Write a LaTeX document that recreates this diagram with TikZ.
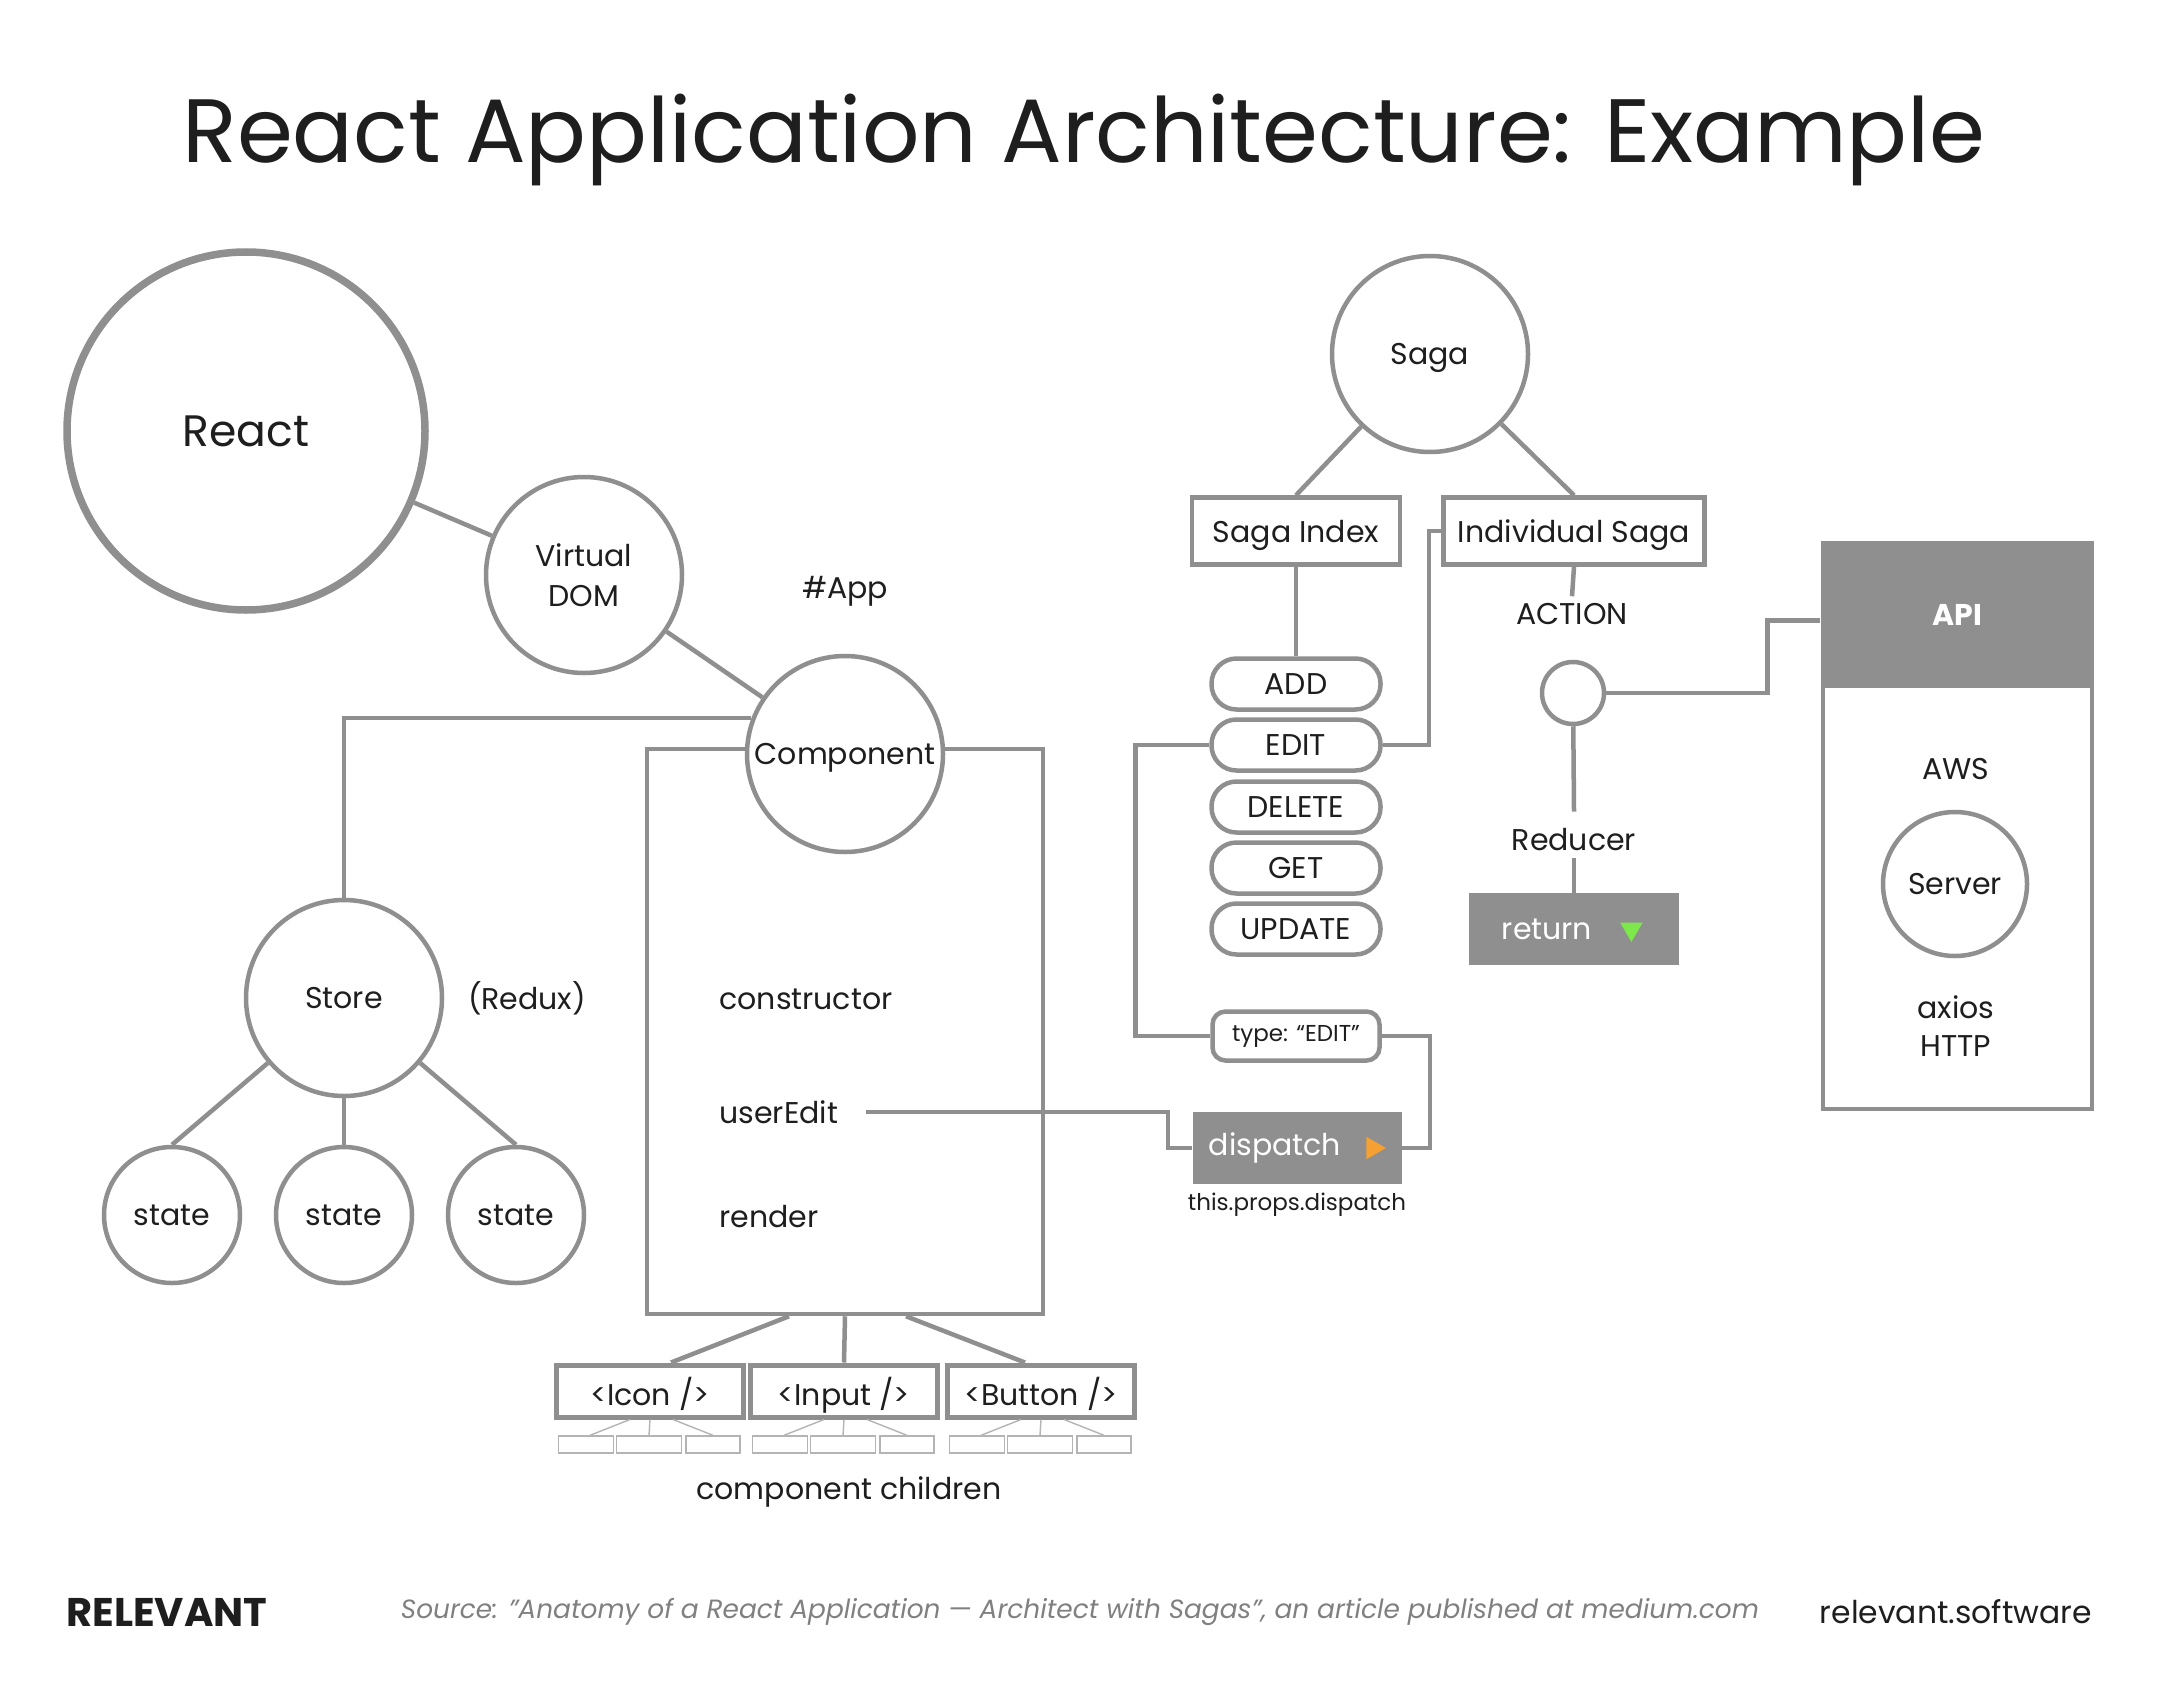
\documentclass[tikz,border=0pt]{standalone}
\usepackage{fontspec}
\setmainfont{Poppins}
\usetikzlibrary{positioning,shapes.geometric}
\definecolor{linegray}{HTML}{8F8F8F}
\definecolor{boxgray}{HTML}{8F8F8F}
\definecolor{leafgray}{HTML}{B4B4B4}
\definecolor{inkblack}{HTML}{1E1E1E}
\definecolor{srcgray}{HTML}{808080}
\definecolor{dispatchorange}{HTML}{F5A033}
\definecolor{returngreen}{HTML}{7CE84A}

\begin{document}
\begin{tikzpicture}[x=0.5pt, y=-0.5pt,
	every node/.style={text=inkblack, font=\fontsize{15}{20}\selectfont},
	wire/.style={draw=linegray, line width=2.25pt},
	bubble/.style={circle, draw=linegray, line width=2.25pt, fill=white, inner sep=0pt, text depth=0pt},
	box/.style={rectangle, draw=linegray, line width=2.25pt, fill=white, inner sep=0pt, text depth=0pt},
	pill/.style={rectangle, rounded corners=12.5pt, draw=linegray, line width=2.25pt, fill=white, minimum width=84.5pt, minimum height=25.5pt, inner sep=0pt},
	graybox/.style={rectangle, fill=boxgray, text=white, inner sep=0pt, minimum width=105pt, minimum height=36pt},
	leaf/.style={rectangle, draw=leafgray, line width=0.7pt, fill=white, minimum height=8.5pt, inner sep=0pt},
	tri/.style={regular polygon, regular polygon sides=3, inner sep=0pt, minimum size=13pt},
	lbl/.style={inner sep=0pt}]
			\fill[white] (0,0) rectangle (2161,1696);
			\useasboundingbox (0,0) rectangle (2161,1696);
			\node[font=\fontsize{45}{50}\selectfont] (title) at (1084,140) {React Application Architecture: Example};

			% React side
			\node[bubble, line width=3.75pt, minimum size=179pt, font=\fontsize{22}{26}\selectfont] (react) at (246,431) {React};
			\node[bubble, minimum size=98pt, align=center] (vdom) at (584,575) {Virtual\\DOM};
			\node (app) at (845,591) {\#App};
			\node[box, fill=none, minimum width=198pt, minimum height=282.5pt] (compbox) at (845,1031.5) {};
			\node[bubble, minimum size=98pt] (comp) at (845,754) {Component};
			\draw[wire] (react) -- (vdom);
			\draw[wire] (vdom) -- (comp);

			% Store
			\node[bubble, minimum size=98pt] (store) at (344,998) {Store};
			\node (redux) at (527,998) {(Redux)};
			\draw[wire] (comp.159) -| (store.north);
			\foreach \i/\x in {1/172,2/344,3/516} {
				\node[bubble, minimum size=68pt] (state\i) at (\x,1215) {state};
				\draw[wire] (store) -- (state\i.north);
			}

			% Component methods
			\node[lbl, anchor=west] (ctor) at (719,999) {constructor};
			\node[lbl, anchor=west] (uedit) at (719,1112) {userEdit};
			\node[lbl, anchor=west] (rndr) at (719,1217) {render};

			% Children
			\foreach \n/\t/\x in {icon/{<Icon />}/650, input/{<Input />}/844, button/{<Button />}/1041} {
				\node[box, line width=2.5pt, minimum width=93.5pt, minimum height=26pt] (\n) at (\x,1391) {\t};
				\node[leaf, minimum width=27.5pt] (\n1) at ({\x-64},1444.5) {};
				\node[leaf, minimum width=32.5pt] (\n2) at ({\x-1},1444.5) {};
				\node[leaf, minimum width=27pt] (\n3) at ({\x+63},1444.5) {};
				\draw[draw=leafgray, line width=0.7pt] ([xshift=-10pt]\n.south) -- ([xshift=2pt]\n1.north);
				\draw[draw=leafgray, line width=0.7pt] (\n.south) -- (\n2.north);
				\draw[draw=leafgray, line width=0.7pt] ([xshift=11.5pt]\n.south) -- (\n3.north);
			}
			\draw[wire] ([xshift=-28pt]compbox.south) -- ([xshift=10.5pt]icon.north);
			\draw[wire] (compbox.south) -- (input.north);
			\draw[wire] ([xshift=30.5pt]compbox.south) -- ([xshift=-8pt]button.north);
			\node (kids) at (849,1492) {component children};

			% Saga
			\node[bubble, minimum size=98pt] (saga) at (1430,354) {Saga};
			\node[box, minimum width=104pt, minimum height=33.5pt] (sidx) at (1296,531) {Saga Index};
			\node[box, minimum width=130.5pt, minimum height=33.5pt] (isaga) at (1574,531) {Individual Saga};
			\draw[wire] (saga) -- (sidx.north);
			\draw[wire] (saga) -- (isaga.north);
			\foreach \n/\t/\y in {add/ADD/684, edit/EDIT/745, del/DELETE/807, get/GET/868, upd/UPDATE/929} {
				\node[pill] (\n) at (1296,\y) {\t};
			}
			\draw[wire] (sidx) -- (add);
			\draw[wire] (edit.east) -- ++(23pt,0) |- (isaga.west);

			% Dispatch
			\node[pill, rounded corners=6.5pt, minimum width=83.5pt, minimum height=24.5pt, font=\fontsize{11.5}{14}\selectfont] (typ) at (1296,1036) {type: “EDIT”};
			\node[graybox, minimum width=104.5pt] (dispatch) at (1297,1148) {dispatch\kern22pt};
			\node[tri, fill=dispatchorange, shape border rotate=-90] (dtri) at ([xshift=-14.5pt]dispatch.east) {};
			\node[font=\fontsize{11.5}{14}\selectfont] (tpd) at (1297,1205) {this.props.dispatch};
			\draw[wire] (edit.west) -- ++(-37pt,0) |- (typ.west);
			\draw[wire] (typ.east) -- ++(24pt,0) |- (dispatch.east);
			\draw[wire] ([xshift=14pt]uedit.east) -- (1168,1112) |- (dispatch.west);

			% Action / reducer
			\node (actlbl) at (1572,614) {ACTION};
			\node[bubble, minimum size=31pt] (actdot) at (1573,693) {};
			\node (reducer) at (1574,840) {Reducer};
			\node[graybox] (ret) at (1574,929) {return\kern27pt};
			\node[tri, fill=returngreen, shape border rotate=180] (rtri) at ([xshift=-24pt]ret.east) {};
			\draw[wire] (isaga.south) -- (actlbl.north);
			\draw[wire] (actdot) -- ([yshift=5pt]reducer.north);
			\draw[wire] (reducer.south) -- (ret.north);

			% API
			\node[box, fill=none, minimum width=134.5pt, minimum height=283pt] (api) at (1957.5,826) {};
			\node[rectangle, fill=boxgray, text=white, anchor=north, minimum width=136.75pt, minimum height=73.5pt, font=\bfseries\fontsize{15}{20}\selectfont] (apihead) at (api.north) {API};
			\node (aws) at (1956,769) {AWS};
			\node[bubble, minimum size=72pt] (server) at (1955,884) {Server};
			\node[align=center, font=\fontsize{15}{19}\selectfont] (axios) at (1956,1026) {axios\\HTTP};
			\draw[wire] (actdot.east) -- ++(80.5pt,0) |- ([yshift=-3pt]apihead.west);

			% Footer
			\node[lbl, anchor=west, font=\bfseries\fontsize{20}{22}\selectfont] (brand) at (66,1612) {RELEVANT};
			\node[text=srcgray, font=\itshape\fontsize{13.2}{16}\selectfont] (source) at (1080,1612) {Source: \char"22 Anatomy of a React Application — Architect with Sagas\char"22, an article published at medium.com};
			\node[lbl, anchor=east, font=\fontsize{15.7}{20}\selectfont] (site) at (2092,1612) {relevant.software};
		\end{tikzpicture}
\end{document}
